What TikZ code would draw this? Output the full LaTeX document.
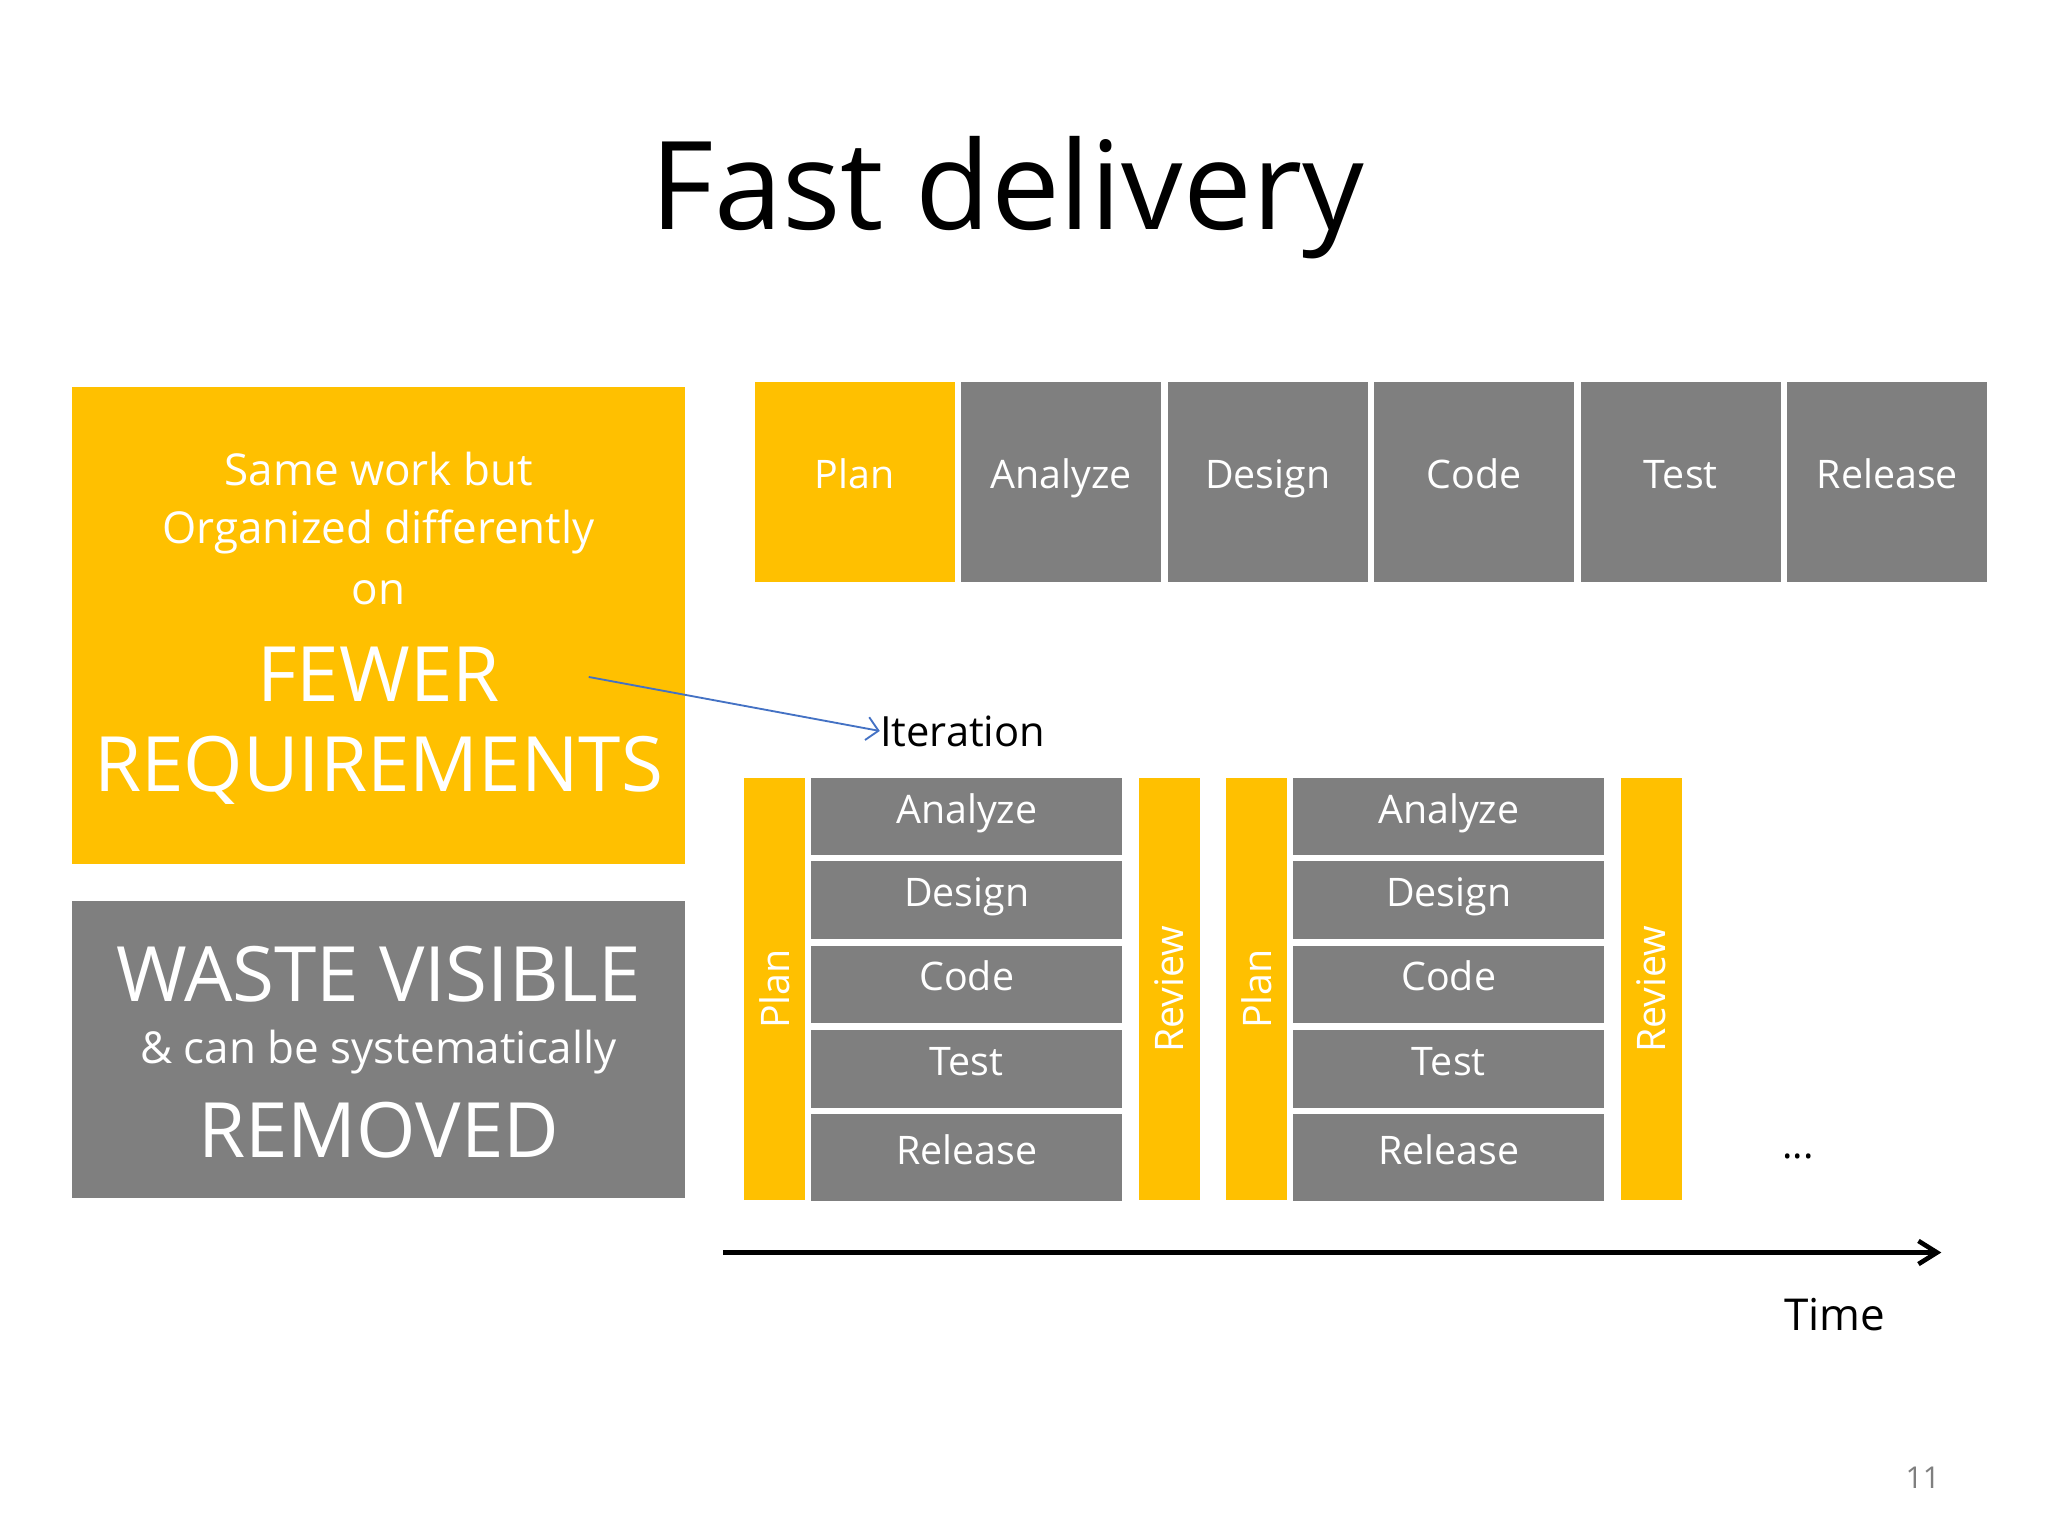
\documentclass[tikz,border=0pt]{standalone}
\usepackage{fontspec}
\setmainfont{Open Sans}
\usetikzlibrary{positioning,arrows.meta}
\definecolor{amber}{HTML}{FFC000}
\definecolor{slate}{HTML}{7F7F7F}
\definecolor{arrowblue}{HTML}{4472C4}
\tikzset{
  phase/.style={fill=slate, text=white, inner sep=0pt, font=\fontsize{17}{20}\selectfont, text height=1.25ex, text depth=0.2ex},
  rowbox/.style={phase, minimum width=3.04cm, minimum height=3.04cm},
  stackbox/.style={phase, minimum width=4.72cm},
  bar/.style={fill=amber, text=white, inner sep=0pt, minimum width=0.93cm, minimum height=6.42cm, font=\fontsize{17}{20}\selectfont},
  panel/.style={minimum width=9.3cm, inner sep=0pt},
  small/.style={text=white, inner sep=0pt, font=\fontsize{19}{24}\selectfont},
  large/.style={text=white, inner sep=0pt, font=\fontsize{33}{40}\selectfont},
}
\begin{document}
\begin{tikzpicture}[x=0.02cm,y=-0.02cm]
  \useasboundingbox (0,0) rectangle (1555,1166);
  % title
  \node (title) at (765,150) {\fontsize{53}{60}\selectfont Fast delivery};

  % left boxes
  \node[panel, fill=amber, minimum height=7.24cm] (fewer) at (287.5,475) {};
  \node[small] (l1) at (287.5,356) {Same work but};
  \node[small] (l2) at (287.5,404) {Organized differently};
  \node[small] (l3) at (287.5,450) {on};
  \node[large] (l4) at (287.5,512) {FEWER};
  \node[large] (l5) at (287.5,585) {REQUIREMENTS};
  \node[panel, fill=slate, minimum height=4.52cm] (waste) at (287.5,797) {};
  \node[large] (w1) at (287.5,740) {WASTE VISIBLE};
  \node[small] (w2) at (287.5,799) {\& can be systematically};
  \node[large] (w3) at (287.5,858) {REMOVED};

  % waterfall row
  \node[rowbox, fill=amber] (p0) at (649,366) {Plan};
  \foreach \name [count=\i] in {Analyze,Design,Code,Test,Release}
    \node[rowbox] (t\i) at ({649+\i*156.8},366) {\name};

  % iterations
  \foreach \k/\dx in {a/0,b/366} {
    \node[bar] (plan\k) at ({588+\dx},751) {\rotatebox{90}{Plan}};
    \node[bar] (rev\k) at ({888+\dx},751) {\rotatebox{90}{Review}};
    \node[stackbox, minimum height=1.16cm] (an\k) at ({734+\dx},620) {Analyze};
    \node[stackbox, minimum height=1.18cm] (de\k) at ({734+\dx},683.5) {Design};
    \node[stackbox, minimum height=1.18cm] (co\k) at ({734+\dx},747.5) {Code};
    \node[stackbox, minimum height=1.18cm] (te\k) at ({734+\dx},811.5) {Test};
    \node[stackbox, minimum height=1.32cm] (re\k) at ({734+\dx},879) {Release};
  }
  \node (dots) at (1365,878) {\fontsize{17}{20}\selectfont ...};

  % iteration label
  \node[anchor=west, inner sep=0pt, font=\fontsize{18}{22}\selectfont] (iter) at (668,555) {Iteration};
  \coordinate (from) at (447,514);
  \draw[-{Straight Barb[length=5pt]}, color=arrowblue, thick] (from) -- (iter.west);

  % time axis
  \coordinate (t0) at (549,951);
  \coordinate (t1) at (1474,951);
  \draw[-{Straight Barb[length=8pt,width=10pt]}, line width=2pt] (t0) -- (t1);
  \node (time) at (1393,998) {\fontsize{19}{24}\selectfont Time};
  \node[text=slate] (page) at (1460,1122) {\fontsize{13}{16}\selectfont 11};
\end{tikzpicture}
\end{document}
